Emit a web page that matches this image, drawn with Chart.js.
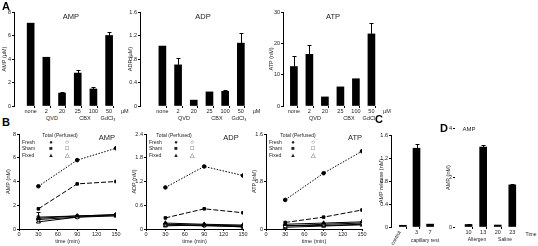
<!DOCTYPE html>
<html><head><meta charset="utf-8">
<script src="https://cdn.jsdelivr.net/npm/chart.js@4/dist/chart.umd.min.js"></script>
<style>
body{margin:0;background:#fff;width:538px;height:246px;overflow:hidden;position:relative;font-family:'Liberation Sans',Arial,sans-serif;}
canvas{position:absolute;}
.t{position:absolute;white-space:nowrap;color:#222;line-height:1;transform:translate(-50%,-50%);}
.l{position:absolute;white-space:nowrap;color:#222;line-height:1;transform:translate(0,-50%);}
</style></head><body>
<script>
// ---------- DATA ----------
const aCats = ['none', '2', '20', '25', '100', '50', 'µM'];
const aAMP = [7.05, 4.15, 1.1, 2.8, 1.45, 6.0];
const aAMPerr = [0, 0, 0.1, 0.26, 0.15, 0.3];
const aADP = [1.02, 0.70, 0.10, 0.24, 0.25, 1.07];
const aADPerr = [0, 0.12, 0, 0, 0.02, 0.17];
const aATP = [12.6, 16.5, 2.9, 6.1, 8.7, 23.0];
const aATPerr = [3.5, 2.9, 0, 0, 0, 3.5];

const tMin = [30, 90, 150];
const bAMPfreshTotal = [3.6, 5.8, 6.8];
const bAMPshamTotal = [1.7, 3.8, 4.0];
const bAMPfixedTotal = [0.9, 1.1, 1.2];
const bAMPfreshPerf = [0.8, 1.0, 1.2];
const bAMPshamPerf = [1.0, 1.1, 1.2];
const bAMPfixedPerf = [0.6, 1.0, 1.1];

const bADPfreshTotal = [1.05, 1.58, 1.35];
const bADPshamTotal = [0.28, 0.51, 0.41];
const bADPfixedTotal = [0.15, 0.12, 0.10];
const bADPfreshPerf = [0.12, 0.10, 0.08];
const bADPshamPerf = [0.10, 0.08, 0.06];
const bADPfixedPerf = [0.08, 0.10, 0.05];

const bATPfreshTotal = [0.49, 0.94, 1.31];
const bATPshamTotal = [0.11, 0.20, 0.32];
const bATPfixedTotal = [0.08, 0.10, 0.12];
const bATPfreshPerf = [0.05, 0.08, 0.10];
const bATPshamPerf = [0.06, 0.06, 0.08];
const bATPfixedPerf = [0.03, 0.05, 0.07];

const cCats = ['', '3', '7'];
const cVals = [0.03, 1.37, 0.05];
const cErr = [0.01, 0.08, 0];

const dCats = ['10', '13', '20', '23'];
const dVals = [0.1, 3.23, 0.08, 1.7];
const dErr = [0.02, 0.1, 0.02, 0.05];

// ---------- HELPERS ----------
const FAM = "'Liberation Sans', Arial, sans-serif";
Chart.defaults.font.family = FAM;
Chart.defaults.font.size = 6;
Chart.defaults.color = '#222';

function txt(s, x, y, size, cls, extra) {
  const d = document.createElement('div');
  d.className = cls || 't';
  d.textContent = s;
  d.style.left = x + 'px'; d.style.top = y + 'px';
  d.style.fontSize = size + 'px';
  if (extra) Object.assign(d.style, extra);
  document.body.appendChild(d);
  return d;
}

const errPlugin = {
  id: 'errbars',
  afterDatasetsDraw(chart) {
    const ctx = chart.ctx, ys = chart.scales.y;
    chart.data.datasets.forEach((ds, i) => {
      if (!ds.err) return;
      const meta = chart.getDatasetMeta(i);
      meta.data.forEach((el, j) => {
        const e = ds.err[j]; if (!e) return;
        const v = ds.data[j].y;
        const x = Math.round(el.x) + 0.5;
        const y1 = ys.getPixelForValue(v), y2 = Math.round(ys.getPixelForValue(v + e)) + 0.5;
        ctx.save(); ctx.strokeStyle = '#000'; ctx.lineWidth = 1;
        ctx.beginPath(); ctx.moveTo(x, y1); ctx.lineTo(x, y2);
        ctx.moveTo(x - 2, y2); ctx.lineTo(x + 2, y2); ctx.stroke(); ctx.restore();
      });
    });
  }
};

function mk(area, yw, xh, config) {
  const x0 = area.l - yw - 1, y0 = area.t - 5;
  const w = area.r + 8 - x0, h = area.b + xh + 1 - y0;
  const c = document.createElement('canvas');
  c.width = w; c.height = h;
  c.style.left = x0 + 'px'; c.style.top = y0 + 'px';
  c.style.width = w + 'px'; c.style.height = h + 'px';
  document.body.appendChild(c);
  config.options = Object.assign({
    responsive: false, animation: false, devicePixelRatio: 1,
    layout: { padding: { left: 1, top: 5, right: 8, bottom: 1 } },
  }, config.options);
  config.options.plugins = Object.assign({ legend: { display: false }, tooltip: { enabled: false } }, config.options.plugins || {});
  config.options.scales.x.afterFit = s => { s.height = xh; };
  config.options.scales.y.afterFit = s => { s.width = yw; };
  config.plugins = [errPlugin];
  return new Chart(c, config);
}

function yScale(max, step, title) {
  return {
    min: 0, max: max,
    ticks: { stepSize: step, padding: 1, font: { size: 5.5 } },
    title: { display: !!title, text: title, padding: 0, font: { size: 5.5 } },
    grid: { drawOnChartArea: false, drawTicks: true, tickLength: 2, tickColor: '#000' },
    border: { display: true, color: '#000', width: 1 }
  };
}

function barChart(area, yw, labels, vals, errs, zeroPx, unit, yMax, yStep, yTitle, showYBorder) {
  const xmin = -(zeroPx - area.l) / unit, xmax = (area.r - zeroPx) / unit;
  const ys = yScale(yMax, yStep, yTitle);
  if (showYBorder === false) ys.border.display = false;
  return mk(area, yw, 8, {
    type: 'bar',
    data: { datasets: [{ data: vals.map((v, i) => ({ x: i, y: v })), err: errs, backgroundColor: '#000', borderWidth: 0, barThickness: 7 }] },
    options: {
      scales: {
        x: {
          type: 'linear', min: xmin, max: xmax,
          afterBuildTicks: s => { const t = []; for (let i = 0; i < labels.length; i++) { t.push({ value: i }); if (i < labels.length - 1) t.push({ value: i + 0.5 }); } s.ticks = t; },
          ticks: { autoSkip: false, maxRotation: 0, padding: 0, font: { size: 5.5 }, callback: v => Number.isInteger(v) ? labels[v] : '' },
          grid: { drawOnChartArea: false, drawTicks: true, tickLength: 2, tickColor: c => (c.tick && !Number.isInteger(c.tick.value)) ? '#000' : 'rgba(0,0,0,0)' },
          border: { display: false }
        },
        y: ys
      }
    }
  });
}

function series(v, ps, fill, dash, err) {
  return {
    data: tMin.map((t, i) => ({ x: t, y: v[i] })), err: err,
    pointStyle: ps, pointRadius: ps === 'triangle' ? 2.3 : 1.8, borderColor: '#000', borderWidth: 1,
    pointBorderColor: '#000', pointBackgroundColor: fill ? '#000' : '#fff', backgroundColor: fill ? '#000' : '#fff',
    borderDash: dash || [], fill: false, tension: 0
  };
}

function lineChart(area, yw, yMax, yStep, yTitle, ds) {
  return mk(area, yw, 16, {
    type: 'line',
    data: { datasets: ds },
    options: {
      scales: {
        x: {
          type: 'linear', min: 0, max: 150,
          ticks: { stepSize: 30, padding: 0, maxRotation: 0, autoSkip: false, font: { size: 5.5 } },
          title: { display: true, text: 'time (min)', padding: 0, font: { size: 5.5 } },
          grid: { drawOnChartArea: false, drawTicks: true, tickLength: 2, tickColor: '#000' },
          border: { display: true, color: '#000', width: 1 }
        },
        y: yScale(yMax, yStep, yTitle)
      }
    }
  });
}

// ---------- PANEL A ----------
barChart({ l: 14, t: 12, r: 135, b: 106 }, 13, aCats, aAMP, aAMPerr, 27, 17, 8, 2, 'AMP (µM)');
barChart({ l: 140, t: 12, r: 266, b: 106 }, 13, aCats, aADP, aADPerr, 159, 17, 1.6, 0.4, 'ADP (µM)');
barChart({ l: 283, t: 12, r: 398, b: 106 }, 15, aCats, aATP, aATPerr, 290, 16.8, 30, 10, 'ATP (nM)');
txt('A', 6, 6, 11, 't', { fontWeight: 'bold', color: '#000' });
txt('AMP', 71, 17, 7.5); txt('ADP', 203, 17, 7.5); txt('ATP', 333, 17, 7.5);
[['QVD', 52], ['CBX', 85], ['GdCl₃', 108], ['QVD', 184], ['CBX', 217], ['GdCl₃', 239], ['QVD', 315], ['CBX', 349], ['GdCl₃', 370]]
  .forEach(g => txt(g[0], g[1], 119, 5.5));

// ---------- PANEL B ----------
lineChart({ l: 19, t: 134, r: 116, b: 229 }, 14, 8, 2, 'AMP (nM)', [
  series(bAMPfreshTotal, 'circle', true, [1.5, 1.5]),
  series(bAMPshamTotal, 'rect', true, [5, 2]),
  series(bAMPfixedTotal, 'triangle', true),
  series(bAMPfreshPerf, 'circle', false, [], [0.6, 0, 0]),
  series(bAMPshamPerf, 'rect', false),
  series(bAMPfixedPerf, 'triangle', false)
]);
lineChart({ l: 146, t: 134, r: 243, b: 229 }, 15, 2.4, 0.6, 'ADP (nM)', [
  series(bADPfreshTotal, 'circle', true, [1.5, 1.5]),
  series(bADPshamTotal, 'rect', true, [5, 2]),
  series(bADPfixedTotal, 'triangle', true),
  series(bADPfreshPerf, 'circle', false),
  series(bADPshamPerf, 'rect', false),
  series(bADPfixedPerf, 'triangle', false)
]);
lineChart({ l: 266, t: 134, r: 362, b: 229 }, 15, 1.6, 0.8, 'ATP (nM)', [
  series(bATPfreshTotal, 'circle', true, [1.5, 1.5]),
  series(bATPshamTotal, 'rect', true, [5, 2]),
  series(bATPfixedTotal, 'triangle', true),
  series(bATPfreshPerf, 'circle', false),
  series(bATPshamPerf, 'rect', false),
  series(bATPfixedPerf, 'triangle', false)
]);
txt('B', 6, 122, 11, 't', { fontWeight: 'bold', color: '#000' });
txt('AMP', 107, 138, 7.5); txt('ADP', 231, 138, 7.5); txt('ATP', 355, 138, 7.5);
function legend(x0, hx, fx, ox) {
  txt('Total  (Perfused)', hx, 135, 5);
  const rows = [['Fresh', '●', '○'], ['Sham', '■', '□'], ['Fixed', '▲', '△']];
  rows.forEach((r, i) => {
    const y = 142 + i * 6.3;
    txt(r[0], x0, y, 5, 'l');
    txt(r[1], fx, y, 6); txt(r[2], ox, y, 6);
  });
}
legend(22, 60, 51, 67);
legend(149, 174, 176, 192);
legend(269, 298, 293, 313);

// ---------- PANEL C ----------
barChart({ l: 391, t: 135, r: 442, b: 227 }, 13, cCats, cVals, cErr, 399.5, 17, 1.6, 0.4, 'AMP release (nM)');
txt('C', 379, 119, 11, 't', { fontWeight: 'bold', color: '#000' });
txt('control', 396, 238, 5, 't', { transform: 'translate(-50%,-50%) rotate(-60deg)' });
txt('capillary rest', 425, 240, 5);

// ---------- PANEL D ----------
barChart({ l: 455, t: 128, r: 525, b: 227 }, 10, dCats, dVals, dErr, 465, 17, 4, 2, 'AMP (nM)', false);
txt('D', 444, 128, 11, 't', { fontWeight: 'bold', color: '#000' });
txt('AMP', 469, 129, 6);
txt('Time', 531, 234, 5);
txt('Allergen', 477, 239, 5); txt('Saline', 505, 239, 5);
</script>
</body></html>
